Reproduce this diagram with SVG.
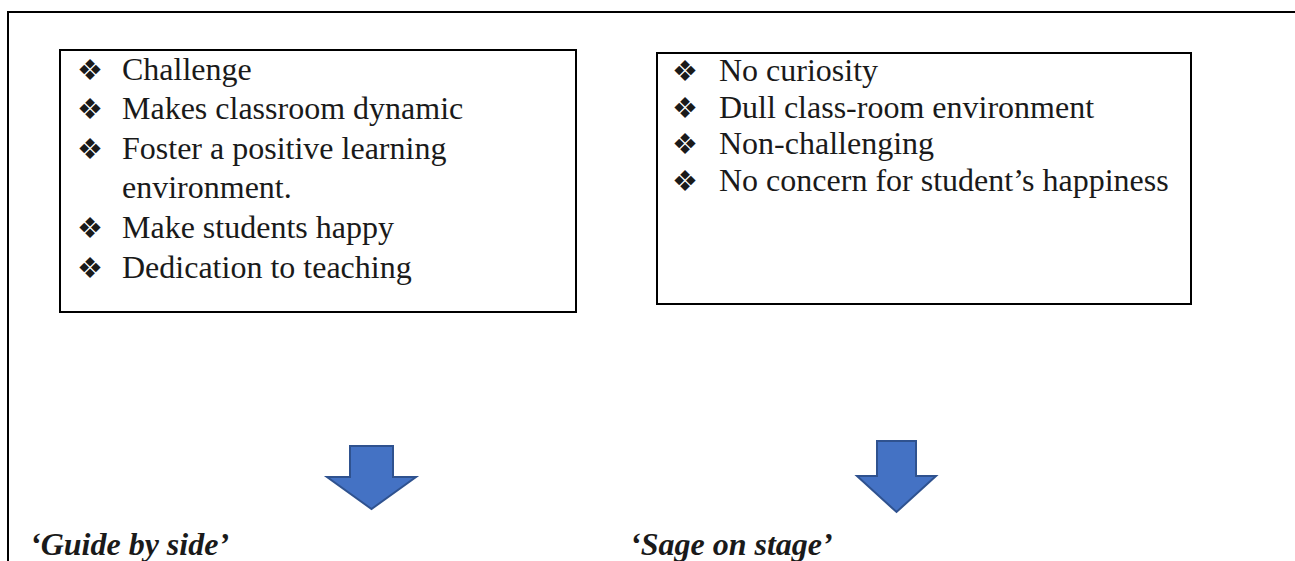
<svg xmlns="http://www.w3.org/2000/svg" width="1295" height="561" viewBox="0 0 1295 561">
  <style>
    .frame { fill: none; stroke: #000; stroke-width: 2; }
    .box { fill: #fff; stroke: #000; stroke-width: 2; }
    .item { font-family: "Liberation Serif", "Times New Roman", serif; font-size: 32px; fill: #1a1a1a; }
    .bul { font-family: "DejaVu Sans", sans-serif; font-size: 29px; fill: #1a1a1a; }
    .title { font-family: "Liberation Serif", "Times New Roman", serif; font-size: 32px; font-weight: bold; font-style: italic; fill: #1a1a1a; }
    .arrow { fill: #4472C4; stroke: #2F528F; stroke-width: 2; stroke-linejoin: miter; }
  </style>
  <rect width="1295" height="561" fill="#fff"/>
  <path class="frame" d="M8,561 V12 H1295"/>

  <g id="positive-traits">
    <rect class="box" x="60" y="50" width="516" height="262"/>
    <text class="bul" x="77" y="80">❖</text>
    <text class="item" x="122" y="80">Challenge</text>
    <text class="bul" x="77" y="119">❖</text>
    <text class="item" x="122" y="119">Makes classroom dynamic</text>
    <text class="bul" x="77" y="159">❖</text>
    <text class="item" x="122" y="159">Foster a positive learning</text>
    <text class="item" x="122" y="198">environment.</text>
    <text class="bul" x="77" y="238">❖</text>
    <text class="item" x="122" y="238">Make students happy</text>
    <text class="bul" x="77" y="278">❖</text>
    <text class="item" x="122" y="278">Dedication to teaching</text>
  </g>

  <g id="negative-traits">
    <rect class="box" x="657" y="53" width="534" height="251"/>
    <text class="bul" x="672" y="81">❖</text>
    <text class="item" x="719" y="81">No curiosity</text>
    <text class="bul" x="672" y="118">❖</text>
    <text class="item" x="719" y="118">Dull class-room environment</text>
    <text class="bul" x="672" y="154">❖</text>
    <text class="item" x="719" y="154">Non-challenging</text>
    <text class="bul" x="672" y="191">❖</text>
    <text class="item" x="719" y="191">No concern for student’s happiness</text>
  </g>

  <g id="connectors">
    <path class="arrow" d="M350,446 H393 V477 H416 L371.5,509 L327,477 H350 Z"/>
    <path class="arrow" d="M877,441 H916 V476 H936 L896.5,512 L857,476 H877 Z"/>
  </g>

  <g id="guide-label">
    <text class="title" x="30" y="555">‘Guide by side’</text>
  </g>
  <g id="sage-label">
    <text class="title" x="630" y="555">‘Sage on stage’</text>
  </g>
</svg>
